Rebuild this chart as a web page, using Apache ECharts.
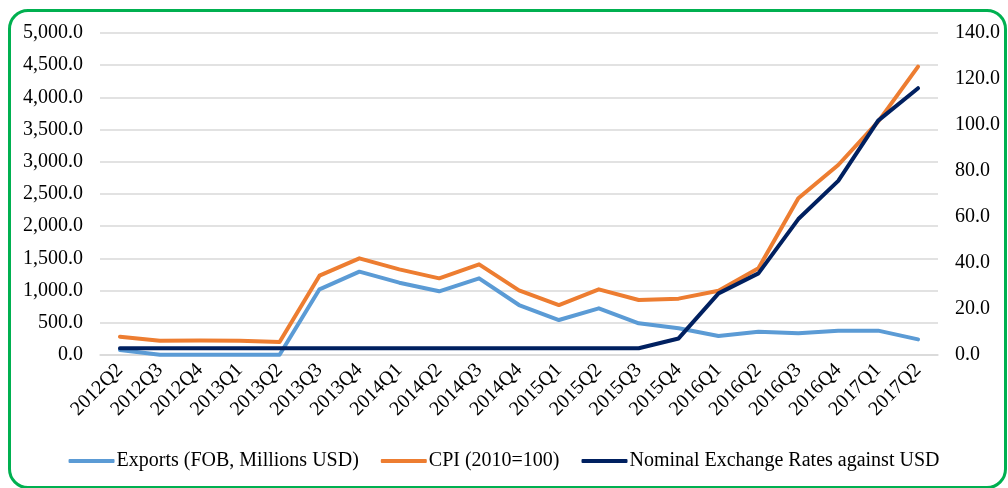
<!DOCTYPE html>
<html>
<head>
<meta charset="utf-8">
<script src="https://cdn.jsdelivr.net/npm/echarts@6/dist/echarts.min.js"></script>
<style>
html, body { margin: 0; padding: 0; background: #fff; overflow: hidden; }
#frame { position: absolute; left: 8px; top: 9px; width: 993px; height: 474px; border: 3px solid #00b050; border-radius: 20px; }
#chartmain { position: absolute; left: 0; top: 0; width: 1008px; height: 488px; }
</style>
</head>
<body>
<div id="frame"></div>
<div id="chartmain"></div>
<script>
var quarters = ['2012Q2','2012Q3','2012Q4','2013Q1','2013Q2','2013Q3','2013Q4','2014Q1','2014Q2','2014Q3','2014Q4',
	'2015Q1','2015Q2','2015Q3','2015Q4','2016Q1','2016Q2','2016Q3','2016Q4','2017Q1','2017Q2'];
var exportsFob = [78, 5, 5, 5, 5, 1020, 1294, 1123, 989, 1190, 776, 543, 725, 492, 414, 295, 362, 336, 378, 378, 243];
var cpi = [285, 222, 225, 220, 202, 1232, 1501, 1330, 1190, 1408, 1004, 776, 1020, 854, 875, 999, 1346, 2433, 2950, 3623, 4477];
var exchRate = [2.95, 2.95, 2.95, 2.95, 2.95, 2.95, 2.95, 2.95, 2.95, 2.95, 2.95, 2.95, 2.95, 2.95, 7.2, 26.8, 35.5, 59.1, 75.7, 101.9, 116];
var names = ['Exports (FOB, Millions USD)', 'CPI (2010=100)', 'Nominal Exchange Rates against USD'];

var font = 'Liberation Serif';
var fmt = function(v) {
	return v.toLocaleString('en-US', {minimumFractionDigits: 1, maximumFractionDigits: 1});
};

var option = {
	animation: false,
	color: ['#5b9bd5', '#ed7d31', '#002060'],
	grid: { left: 100, right: 70, top: 33, bottom: 133 },
	legend: {
		bottom: 12,
		left: 'center',
		itemWidth: 46,
		itemHeight: 4,
		itemGap: 22,
		icon: 'roundRect',
		textStyle: { fontFamily: font, fontSize: 20, color: '#000', padding: [0, 0, 0, -3] },
		data: names
	},
	xAxis: {
		type: 'category',
		data: quarters,
		axisLine: { lineStyle: { color: '#d9d9d9', width: 1.5 } },
		axisTick: { show: false },
		axisLabel: { rotate: 45, fontFamily: font, fontSize: 20, color: '#000', margin: 12, interval: 0 }
	},
	yAxis: [{
		type: 'value',
		min: 0, max: 5000, interval: 500,
		axisLine: { show: false },
		axisTick: { show: false },
		splitLine: { lineStyle: { color: '#d9d9d9', width: 1.5 } },
		axisLabel: { fontFamily: font, fontSize: 20, color: '#000', margin: 17, formatter: fmt }
	}, {
		type: 'value',
		min: 0, max: 140, interval: 20,
		axisLine: { show: false },
		axisTick: { show: false },
		splitLine: { show: false },
		axisLabel: { fontFamily: font, fontSize: 20, color: '#000', margin: 17, formatter: fmt }
	}],
	series: [{
		name: names[0], type: 'line', data: exportsFob, yAxisIndex: 0,
		symbol: 'none', lineStyle: { width: 4, cap: 'round', join: 'round' }
	}, {
		name: names[1], type: 'line', data: cpi, yAxisIndex: 0,
		symbol: 'none', lineStyle: { width: 4, cap: 'round', join: 'round' }
	}, {
		name: names[2], type: 'line', data: exchRate, yAxisIndex: 1,
		symbol: 'none', lineStyle: { width: 4, cap: 'round', join: 'round' }
	}]
};

var myChart = echarts.init(document.getElementById('chartmain'));
myChart.setOption(option);
</script>
</body>
</html>
